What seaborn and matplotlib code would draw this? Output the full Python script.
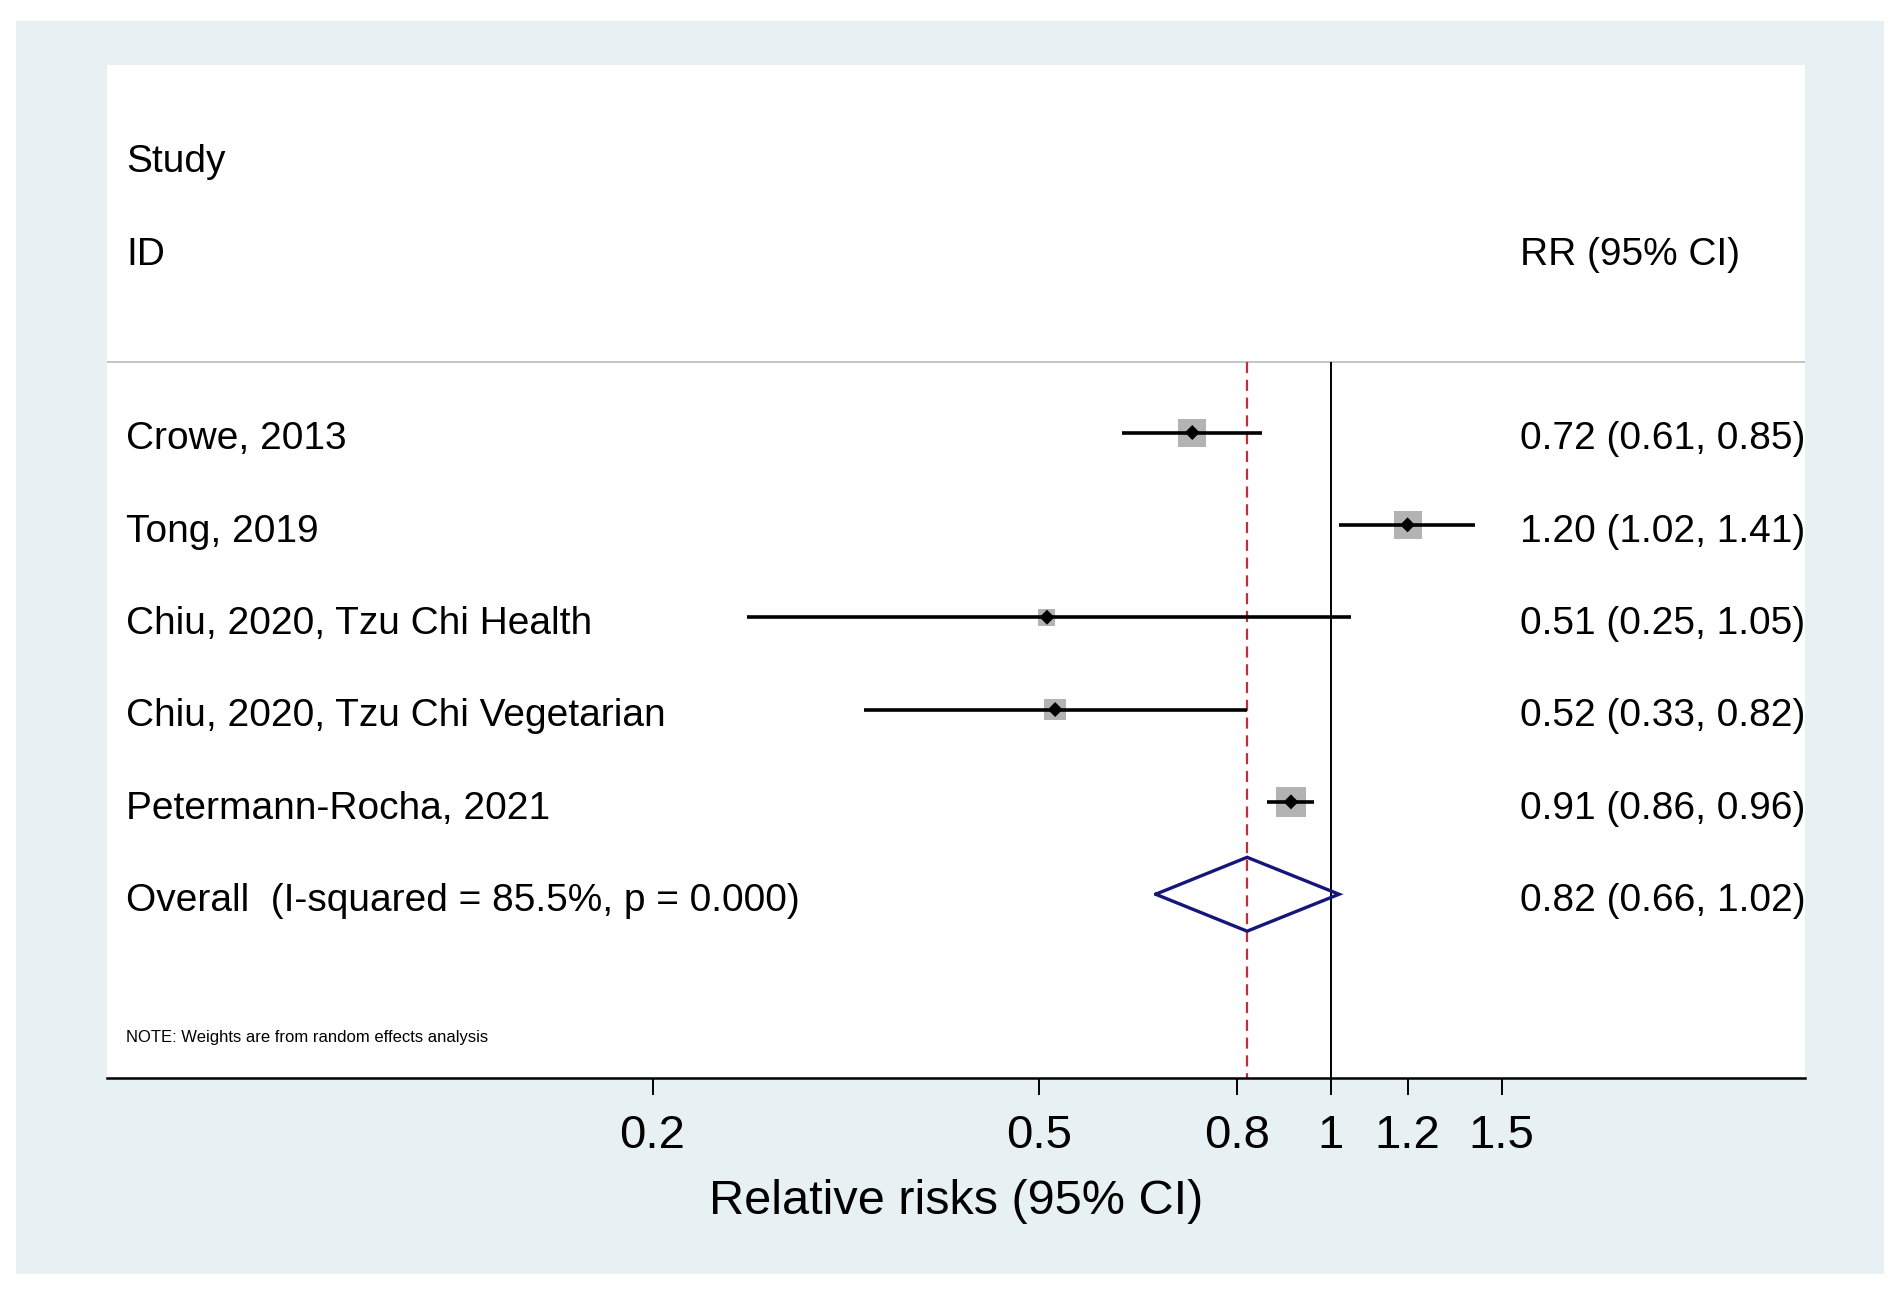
import numpy as np
import pandas as pd
import matplotlib
matplotlib.use("Agg")
import matplotlib.pyplot as plt
import matplotlib.transforms as mtransforms
from matplotlib.patches import Rectangle
import seaborn as sns

# Study data
studies = [
    "Crowe, 2013",
    "Tong, 2019",
    "Chiu, 2020, Tzu Chi Health",
    "Chiu, 2020, Tzu Chi Vegetarian",
    "Petermann-Rocha, 2021",
]
rr = [0.72, 1.20, 0.51, 0.52, 0.91]
ci_low = [0.61, 1.02, 0.25, 0.33, 0.86]
ci_high = [0.85, 1.41, 1.05, 0.82, 0.96]
weights = [24.1, 24.1, 8.9, 14.2, 28.7]  # approx. % weight (box area)

overall_rr = 0.82
overall_low = 0.66
overall_high = 1.02
i_squared = 85.5
p_value = 0.000

tick_values = [0.2, 0.5, 0.8, 1, 1.2, 1.5]
tick_labels = ["0.2", "0.5", "0.8", "1", "1.2", "1.5"]

df = pd.DataFrame({
    "study": studies,
    "rr": rr,
    "low": ci_low,
    "high": ci_high,
    "weight": weights,
})
df["row"] = np.arange(1, len(df) + 1)
overall_row = len(df) + 1

sns.set_style("white")
plt.rcParams["font.family"] = ["Liberation Sans", "DejaVu Sans"]
plt.rcParams["text.color"] = "black"
plt.rcParams["axes.labelcolor"] = "black"
plt.rcParams["xtick.color"] = "black"

fig = plt.figure(figsize=(19.02, 12.89), dpi=100, facecolor="white")
# light blue graph region with thin white margin
bg = Rectangle((16 / 1902, 1 - 1274 / 1289), (1884 - 16) / 1902,
               (1274 - 21) / 1289, transform=fig.transFigure,
               facecolor="#e7f0f2", edgecolor="none", zorder=-10)
fig.patches.append(bg)
ax = fig.add_axes([107 / 1902, 1 - 1078 / 1289, (1805 - 107) / 1902, (1078 - 65) / 1289])
ax.set_zorder(1)
ax.set_facecolor("white")

ax.set_xscale("log")
ax.set_xlim(0.0548, 3.082)
ax.set_ylim(7.99, -2.98)

sep_y = 0.24
# header separator
ax.axhline(sep_y, color="#c4c4c4", lw=1.4, zorder=1)
# null line and overall line
ax.vlines(1, sep_y, 7.99, color="black", lw=1.4, zorder=2)
ax.vlines(overall_rr, sep_y, 7.99, color="#c0303c", lw=1.6,
          linestyles=(0, (5, 3)), zorder=2)

# weight boxes (area proportional to weight)
sns.scatterplot(data=df, x="rr", y="row", size="weight", sizes=(0, 16.84 * 30),
                size_norm=(0, 30), marker="s", color="#b3b3b3", edgecolor="none",
                legend=False, ax=ax, zorder=3)
# confidence intervals
ax.hlines(df["row"], df["low"], df["high"], color="black", lw=2.6, zorder=4)
# point estimates
sns.scatterplot(data=df, x="rr", y="row", marker="D", s=58, color="black",
                edgecolor="none", legend=False, ax=ax, zorder=5)

# pooled estimate diamond
dx = [overall_low, overall_rr, overall_high, overall_rr, overall_low]
dy = [overall_row, overall_row - 0.4, overall_row, overall_row + 0.4, overall_row]
ax.plot(dx, dy, color="#16167a", lw=2.4, zorder=6, solid_joinstyle="miter")

# text columns
trans = mtransforms.blended_transform_factory(ax.transAxes, ax.transData)
left_x = 0.0112
right_x = 0.8322
fs = 28
dy_txt = 0.03
ax.text(left_x, -2 + dy_txt, "Study", transform=trans, fontsize=fs, va="center_baseline")
ax.text(left_x, -1 + dy_txt, "ID", transform=trans, fontsize=fs, va="center_baseline")
ax.text(right_x, -1 + dy_txt, "RR (95% CI)", transform=trans, fontsize=fs,
        va="center_baseline")
for _, r in df.iterrows():
    ax.text(left_x, r["row"] + dy_txt, r["study"], transform=trans, fontsize=fs,
            va="center_baseline")
    ax.text(right_x, r["row"] + dy_txt,
            f"{r['rr']:.2f} ({r['low']:.2f}, {r['high']:.2f})",
            transform=trans, fontsize=fs, va="center_baseline")
ax.text(left_x, overall_row + dy_txt,
        f"Overall  (I-squared = {i_squared:.1f}%, p = {p_value:.3f})",
        transform=trans, fontsize=fs, va="center_baseline")
ax.text(right_x, overall_row + dy_txt,
        f"{overall_rr:.2f} ({overall_low:.2f}, {overall_high:.2f})",
        transform=trans, fontsize=fs, va="center_baseline")
ax.text(left_x, 7.5 + dy_txt, "NOTE: Weights are from random effects analysis",
        transform=trans, fontsize=12, va="center_baseline")

# axes styling
for side in ["top", "left", "right"]:
    ax.spines[side].set_visible(False)
ax.spines["bottom"].set_linewidth(1.8)
ax.spines["bottom"].set_color("black")
ax.set_yticks([])
ax.set_xticks(tick_values)
ax.set_xticklabels(tick_labels)
ax.xaxis.set_minor_locator(matplotlib.ticker.NullLocator())
ax.tick_params(axis="x", which="major", direction="out", length=12, width=1.4,
               color="black", labelsize=34, pad=14, bottom=True)
ax.set_xlabel("Relative risks (95% CI)", fontsize=35, labelpad=15)
ax.set_ylabel("")

fig.savefig("out.png", dpi=100, facecolor="white")
plt.close(fig)
